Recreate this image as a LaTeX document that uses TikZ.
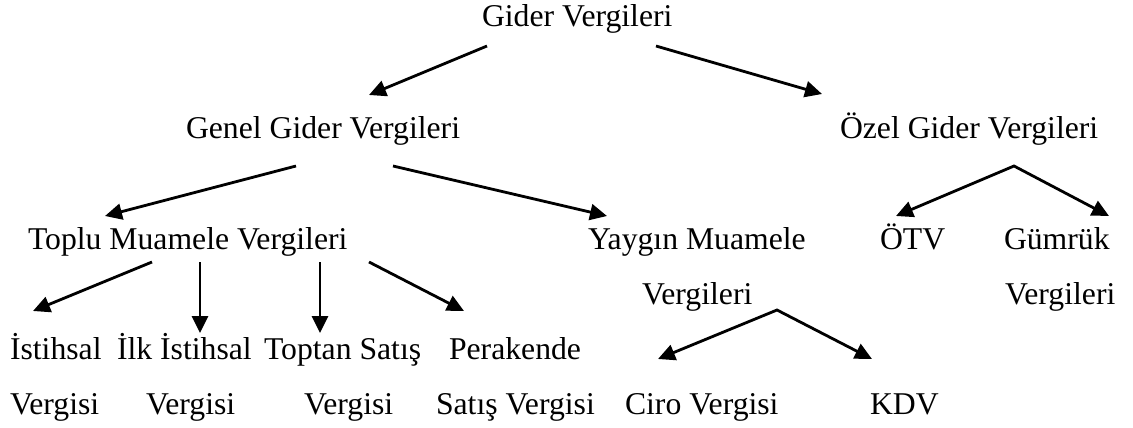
\documentclass[tikz,border=0pt]{standalone}
\usepackage{fontspec}
\setmainfont{Liberation Serif}
\usetikzlibrary{arrows.meta}
\begin{document}
\begin{tikzpicture}[x=1pt,y=-1pt,
  lbl/.style={anchor=base west,inner sep=0pt,outer sep=0pt,
    font=\fontsize{31.7}{38}\selectfont},
  tip/.style={Triangle[length=17pt,width=16pt]},
  arr/.style={line width=2.8pt,line join=miter,-{Triangle[length=17pt,width=16pt]}},
  arr2/.style={line width=2.8pt,line join=miter,
    {Triangle[length=17pt,width=16pt]}-{Triangle[length=17pt,width=16pt]}}]
\useasboundingbox (0,0) rectangle (1133,428);

% tree labels
\node[lbl] (gider)   at (482,27)  {Gider Vergileri};
\node[lbl] (genel)   at (186,138) {Genel Gider Vergileri};
\node[lbl] (ozel)    at (840,138) {Özel Gider Vergileri};
\node[lbl] (toplu)   at (28,249)  {Toplu Muamele Vergileri};
\node[lbl] (yaygin)  at (588,249) {Yaygın Muamele};
\node[lbl] (yayginb) at (642,304) {Vergileri};
\node[lbl] (otv)     at (880,249) {ÖTV};
\node[lbl] (gumruk)  at (1004,249){Gümrük};
\node[lbl] (gumrukb) at (1005,304){Vergileri};
\node[lbl] (ist)     at (10,359)  {İstihsal};
\node[lbl] (istb)    at (10,414)  {Vergisi};
\node[lbl] (ilk)     at (117,359) {İlk İstihsal};
\node[lbl] (ilkb)    at (146,414) {Vergisi};
\node[lbl] (toptan)  at (264,359) {Toptan Satış};
\node[lbl] (toptanb) at (304,414) {Vergisi};
\node[lbl] (perak)   at (449,359) {Perakende};
\node[lbl] (perakb)  at (436,414) {Satış Vergisi};
\node[lbl] (ciro)    at (625,414) {Ciro Vergisi};
\node[lbl] (kdv)     at (870,414) {KDV};

% first level
\draw[arr] ([shift={(5,19)}]gider.base west) -- ([shift={(183,-43)}]genel.base west);
\draw[arr] ([shift={(174,19)}]gider.base west) -- ([shift={(-18,-44)}]ozel.base west);

% second level
\draw[arr] ([shift={(110,28)}]genel.base west) -- ([shift={(77,-33)}]toplu.base west);
\draw[arr] ([shift={(207,28)}]genel.base west) -- ([shift={(19,-33)}]yaygin.base west);
\draw[arr2] ([shift={(16,-33)}]otv.base west) -- ([shift={(174,28)}]ozel.base west)
  -- ([shift={(105,-33)}]gumruk.base west);

% third level
\draw[arr] ([shift={(124,13)}]toplu.base west) -- ([shift={(23,-48)}]ist.base west);
\draw[arr] ([shift={(172,13)}]toplu.base west) -- ([shift={(83,-26)}]ilk.base west);
\draw[arr] ([shift={(292,13)}]toplu.base west) -- ([shift={(56,-26)}]toptan.base west);
\draw[arr] ([shift={(341,13)}]toplu.base west) -- ([shift={(15,-48)}]perak.base west);
\draw[arr2] ([shift={(33,-55)}]ciro.base west) -- ([shift={(135,6)}]yayginb.base west)
  -- ([shift={(2,-55)}]kdv.base west);
\end{tikzpicture}
\end{document}
